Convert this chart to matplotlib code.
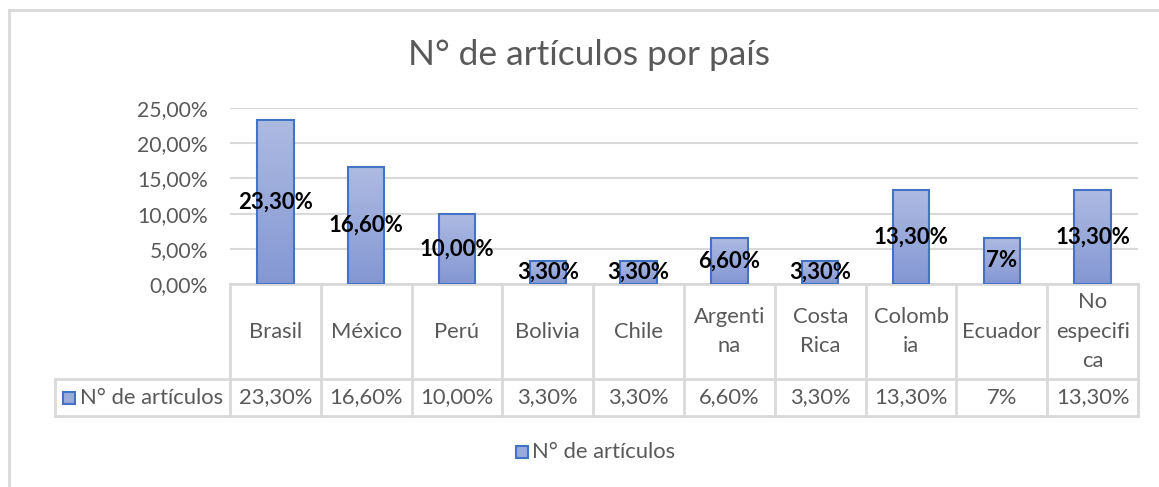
import numpy as np
import matplotlib.pyplot as plt
from matplotlib.transforms import blended_transform_factory
from matplotlib.colors import LinearSegmentedColormap
from matplotlib.patches import Rectangle

# Data
paises = ["Brasil", "México", "Perú", "Bolivia", "Chile", "Argentina",
          "Costa Rica", "Colombia", "Ecuador", "No especifica"]
etiquetas_tabla = ["Brasil", "México", "Perú", "Bolivia", "Chile", "Argenti\nna",
                   "Costa\nRica", "Colomb\nia", "Ecuador", "No\nespecifi\nca"]
valores = [0.233, 0.166, 0.100, 0.033, 0.033, 0.066, 0.033, 0.133, 0.066, 0.133]
textos = ["23,30%", "16,60%", "10,00%", "3,30%", "3,30%", "6,60%",
          "3,30%", "13,30%", "7%", "13,30%"]
serie = "N° de artículos"
titulo = "N° de artículos por país"
yticks = [0, 0.05, 0.10, 0.15, 0.20, 0.25]

plt.rcParams['font.family'] = ['Lato', 'DejaVu Sans']
W, H = 1159, 487
gris = "#595959"
linea = "#d9d9d9"
azul = "#4472c4"
grad = LinearSegmentedColormap.from_list("g", ["#8497d3", "#adbbe2"])
fs = 15.8

fig = plt.figure(figsize=(W / 100, H / 100), dpi=100)
fx = lambda x: x / W
fy = lambda y: 1 - y / H

ax = fig.add_axes([fx(230), fy(284), fx(1138) - fx(230), fy(108) - fy(284)])
for s in ax.spines.values():
    s.set_visible(False)
ax.set_xticks([])
ax.set_yticks(yticks)
ax.set_yticklabels([f"{v*100:.2f}%".replace(".", ",") for v in yticks])
ax.tick_params(axis="y", length=0, pad=16, labelsize=15.2, labelcolor=gris)
ax.grid(axis="y", color=linea, lw=1.5)
ax.set_axisbelow(True)

x = np.arange(len(paises))
bars = ax.bar(x, valores, width=0.4, facecolor="none", edgecolor=azul, lw=1.5, zorder=3)
for b in bars:
    x0, y0 = b.get_x(), b.get_y()
    im = ax.imshow(np.linspace(0, 1, 100).reshape(-1, 1), cmap=grad, aspect="auto",
                   extent=[x0, x0 + b.get_width(), y0, y0 + b.get_height()],
                   origin="lower", zorder=2)
    im.set_clip_path(b)
ax.set_xlim(-0.5, len(paises) - 0.5)
ax.set_ylim(0, 0.25)

for xi, v, t in zip(x, valores, textos):
    ax.text(xi, v / 2, t, ha="center", va="center", fontsize=16,
            fontweight="bold", color="black", zorder=5)

# Data table below the plot
tr = blended_transform_factory(ax.transData, fig.transFigure)
lw = 2
y_top, y_mid, y_bot = fy(284), fy(379), fy(416)
bounds = np.arange(len(paises) + 1) - 0.5
for bx in bounds:
    ax.plot([bx, bx], [y_top, y_bot], transform=tr, color=linea, lw=lw, clip_on=False)
ax.plot([-0.5, len(paises) - 0.5], [y_top, y_top], transform=tr, color=linea, lw=lw, clip_on=False)
fig.add_artist(plt.Line2D([fx(55), fx(1138)], [y_mid, y_mid], color=linea, lw=lw))
fig.add_artist(plt.Line2D([fx(55), fx(1138)], [y_bot, y_bot], color=linea, lw=lw))
fig.add_artist(plt.Line2D([fx(55), fx(55)], [y_mid, y_bot], color=linea, lw=lw))

for xi, lab, t in zip(x, etiquetas_tabla, textos):
    ax.text(xi, (y_top + y_mid) / 2, lab, transform=tr, ha="center", va="center",
            fontsize=fs, color=gris, linespacing=1.6)
    ax.text(xi, (y_mid + y_bot) / 2, t, transform=tr, ha="center", va="center",
            fontsize=fs, color=gris)


def clave(xp, yp):
    r = Rectangle((fx(xp), fy(yp + 12)), fx(12), 12 / H, transform=fig.transFigure,
                  facecolor="#9aaadb", edgecolor=azul, lw=1.5)
    fig.add_artist(r)


clave(63, 392)
fig.text(fx(80), (y_mid + y_bot) / 2, serie, ha="left", va="center", fontsize=fs, color=gris)

# Legend
clave(516, 446)
fig.text(fx(532), fy(452), serie, ha="left", va="center", fontsize=fs, color=gris)

fig.text(fx(589), fy(55), titulo, ha="center", va="center", fontsize=25.5, color=gris)

# Chart border
fig.add_artist(plt.Line2D([fx(9), fx(9)], [fy(10), 0], color=linea, lw=2))
fig.add_artist(plt.Line2D([fx(9), 1], [fy(10), fy(10)], color=linea, lw=2))

fig.savefig("out.png", dpi=100)
